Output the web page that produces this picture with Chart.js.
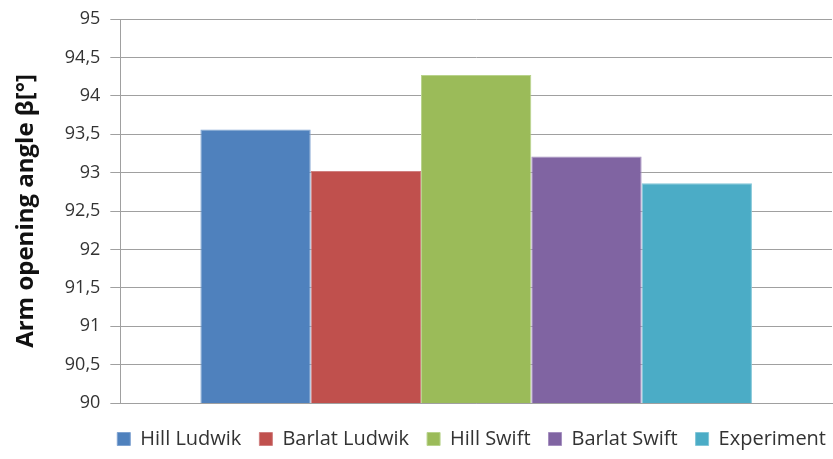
<!DOCTYPE html>
<html>
<head>
<meta charset="utf-8">
<script src="https://cdn.jsdelivr.net/npm/chart.js@4/dist/chart.umd.min.js"></script>
<style>
  html, body { margin: 0; padding: 0; background: #fff; }
  #wrap { width: 833px; height: 459px; }
</style>
</head>
<body>
<div id="wrap"><canvas id="myChart"></canvas></div>
<script>
'use strict';

var categories = [''];
var seriesNames = ['Hill Ludwik', 'Barlat Ludwik', 'Hill Swift', 'Barlat Swift', 'Experiment'];
var seriesValues = [93.56, 93.02, 94.27, 93.21, 92.86];
var seriesColors = ['#4f81bd', '#c0504d', '#9bbb59', '#8064a2', '#4bacc6'];
var borderColors = ['#7fa3d1', '#d08080', '#b9d38c', '#a590c0', '#82c6d8'];

var datasets = seriesNames.map(function (name, i) {
    return {
        label: name,
        data: [seriesValues[i]],
        backgroundColor: seriesColors[i],
        borderColor: borderColors[i],
        borderWidth: 1,
        barPercentage: 1,
        categoryPercentage: 0.775
    };
});

// nudge the legend row to the right, like the original sits under the plot
var legendShift = {
    id: 'legendShift',
    afterLayout: function (chart) {
        if (chart.legend) {
            chart.legend.left += 12;
            chart.legend.right += 12;
        }
    }
};

var ctx = document.getElementById('myChart').getContext('2d');
var chart = new Chart(ctx, {
    type: 'bar',
    data: {
        labels: categories,
        datasets: datasets
    },
    plugins: [legendShift],
    options: {
        responsive: true,
        maintainAspectRatio: false,
        animation: false,
        layout: { padding: { top: 3, right: 1, left: 12, bottom: 0 } },
        plugins: {
            tooltip: { enabled: false },
            legend: {
                position: 'bottom',
                align: 'end',
                labels: {
                    boxWidth: 13,
                    boxHeight: 13,
                    padding: 18,
                    color: '#333',
                    font: { family: 'Open Sans', size: 20 }
                }
            }
        },
        scales: {
            x: {
                ticks: { display: false },
                grid: { display: false },
                border: { display: true, color: '#a0a0a0', width: 1 }
            },
            y: {
                min: 90,
                max: 95,
                ticks: {
                    stepSize: 0.5,
                    color: '#333',
                    padding: 10,
                    font: { family: 'Open Sans', size: 18, lineHeight: 1 },
                    callback: function (v) { return String(v).replace('.', ','); }
                },
                grid: {
                    color: '#a0a0a0',
                    tickLength: 10,
                    tickColor: '#a0a0a0'
                },
                border: { display: true, color: '#a0a0a0' },
                title: {
                    display: true,
                    text: 'Arm opening angle β[°]',
                    color: '#111',
                    padding: { top: 0, bottom: 14 },
                    font: { family: 'Open Sans', size: 24, weight: 'bold' }
                }
            }
        }
    }
});
</script>
</body>
</html>
